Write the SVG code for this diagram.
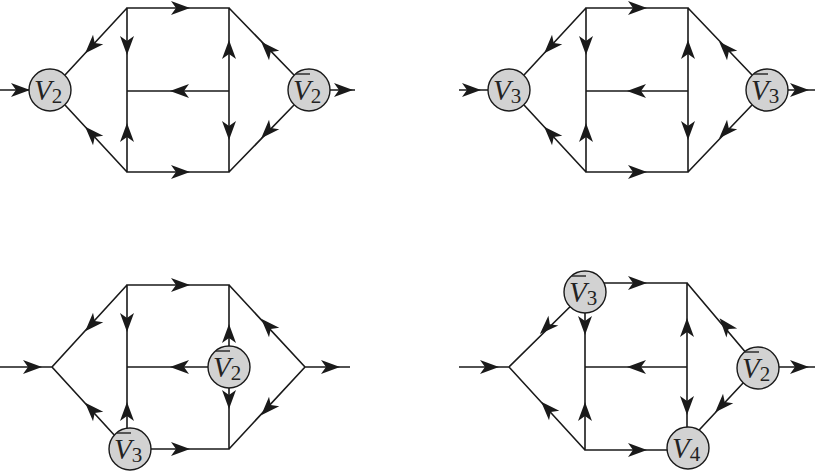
<svg xmlns="http://www.w3.org/2000/svg" xmlns:xlink="http://www.w3.org/1999/xlink" width="817" height="474" viewBox="0 0 817 474">
<style>
.l{stroke:#1a1a1a;stroke-width:1.6;fill:none}
.v circle{fill:#d2d2d2;stroke:#1a1a1a;stroke-width:1.4}
.v text{font-family:"Liberation Serif",serif;font-size:29px;font-style:italic;fill:#222}
.v tspan{font-style:normal;font-size:21px}
.v line{stroke:#222;stroke-width:1.4}
</style>
<defs><path id="a" d="M10,0 L-9,-7 L-4,0 L-9,7 Z" fill="#1a1a1a"/></defs>
<g id="connectors">
<path class="l" d="M0,90H29 M330,90H355 M127,8H229V172H127Z M127,91H229 M127,8L65,75 M127,172L65,105 M229,8L294,75 M229,172L294,105"/>
<use href="#a" transform="translate(20,90)"/><use href="#a" transform="translate(343,90)"/>
<use href="#a" transform="translate(180,8)"/><use href="#a" transform="translate(180,172)"/>
<use href="#a" transform="translate(180,91) rotate(180)"/>
<use href="#a" transform="translate(127,45) rotate(90)"/><use href="#a" transform="translate(127,133) rotate(-90)"/>
<use href="#a" transform="translate(229,50) rotate(-90)"/><use href="#a" transform="translate(229,130) rotate(90)"/>
<use href="#a" transform="translate(92,46) rotate(133)"/><use href="#a" transform="translate(92,134) rotate(-133)"/>
<use href="#a" transform="translate(268,49) rotate(-133)"/><use href="#a" transform="translate(268,131) rotate(133)"/>
<path class="l" d="M459,90H488 M788,90H815 M586,8H688V172H586Z M586,91H688 M586,8L524,75 M586,172L524,105 M688,8L752,75 M688,172L752,105"/>
<use href="#a" transform="translate(471,90)"/><use href="#a" transform="translate(799,90)"/>
<use href="#a" transform="translate(637,8)"/><use href="#a" transform="translate(637,172)"/>
<use href="#a" transform="translate(637,91) rotate(180)"/>
<use href="#a" transform="translate(586,45) rotate(90)"/><use href="#a" transform="translate(586,133) rotate(-90)"/>
<use href="#a" transform="translate(688,50) rotate(-90)"/><use href="#a" transform="translate(688,130) rotate(90)"/>
<use href="#a" transform="translate(551,46) rotate(133)"/><use href="#a" transform="translate(551,134) rotate(-133)"/>
<use href="#a" transform="translate(726,49) rotate(-133)"/><use href="#a" transform="translate(726,131) rotate(133)"/>
<path class="l" d="M0,367H52 M305,367H350 M127,285H229V449H127Z M127,367H229 M127,285L52,367L127,449 M229,285L305,367L229,449"/>
<use href="#a" transform="translate(32,367)"/><use href="#a" transform="translate(330,367)"/>
<use href="#a" transform="translate(180,285)"/><use href="#a" transform="translate(180,449)"/>
<use href="#a" transform="translate(180,367) rotate(180)"/>
<use href="#a" transform="translate(127,322) rotate(90)"/><use href="#a" transform="translate(127,412) rotate(-90)"/>
<use href="#a" transform="translate(229,334) rotate(-90)"/><use href="#a" transform="translate(229,399) rotate(90)"/>
<use href="#a" transform="translate(92,324) rotate(133)"/><use href="#a" transform="translate(92,410) rotate(-133)"/>
<use href="#a" transform="translate(268,326) rotate(-133)"/><use href="#a" transform="translate(268,408) rotate(133)"/>
<path class="l" d="M459,367H509 M779,367H815 M585,283H687V450H585Z M585,367H687 M585,292L509,367L585,450 M687,283L758,367L687,443"/>
<use href="#a" transform="translate(489,367)"/><use href="#a" transform="translate(799,367)"/>
<use href="#a" transform="translate(637,283)"/><use href="#a" transform="translate(637,450)"/>
<use href="#a" transform="translate(637,367) rotate(180)"/>
<use href="#a" transform="translate(585,325) rotate(90)"/><use href="#a" transform="translate(585,412) rotate(-90)"/>
<use href="#a" transform="translate(687,328) rotate(-90)"/><use href="#a" transform="translate(687,405) rotate(90)"/>
<use href="#a" transform="translate(547,327) rotate(135)"/><use href="#a" transform="translate(548,409) rotate(-133)"/>
<use href="#a" transform="translate(726,326) rotate(-130)"/><use href="#a" transform="translate(722,405) rotate(133)"/>
</g>
<g id="n1" class="v"><circle cx="50" cy="90" r="21"/><text x="34" y="100">V<tspan dy="3">2</tspan></text></g>
<g id="n2" class="v"><circle cx="309" cy="90" r="21"/><line x1="296" y1="74" x2="310" y2="74"/><text x="293" y="100">V<tspan dy="3">2</tspan></text></g>
<g id="n3" class="v"><circle cx="509" cy="90" r="21"/><text x="493" y="100">V<tspan dy="3">3</tspan></text></g>
<g id="n4" class="v"><circle cx="767" cy="90" r="21"/><line x1="754" y1="74" x2="768" y2="74"/><text x="751" y="100">V<tspan dy="3">3</tspan></text></g>
<g id="n5" class="v"><circle cx="229" cy="367" r="21"/><line x1="216" y1="351" x2="230" y2="351"/><text x="213" y="377">V<tspan dy="3">2</tspan></text></g>
<g id="n6" class="v"><circle cx="130" cy="449" r="21"/><line x1="117" y1="433" x2="131" y2="433"/><text x="114" y="459">V<tspan dy="3">3</tspan></text></g>
<g id="n7" class="v"><circle cx="585" cy="292" r="21"/><line x1="572" y1="276" x2="586" y2="276"/><text x="569" y="302">V<tspan dy="3">3</tspan></text></g>
<g id="n8" class="v"><circle cx="758" cy="368" r="21"/><line x1="745" y1="352" x2="759" y2="352"/><text x="742" y="378">V<tspan dy="3">2</tspan></text></g>
<g id="n9" class="v"><circle cx="688" cy="448" r="21"/><text x="672" y="458">V<tspan dy="3">4</tspan></text></g>
</svg>
